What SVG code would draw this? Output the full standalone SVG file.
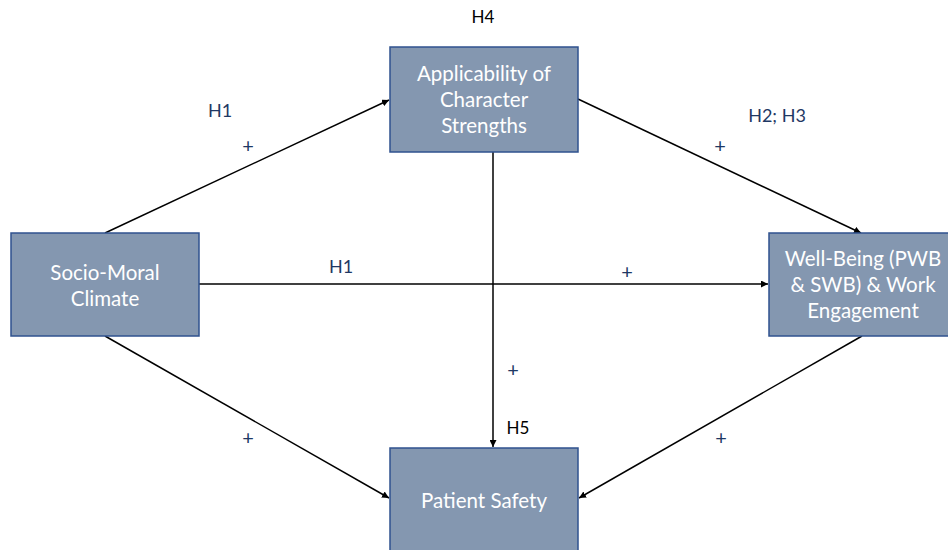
<svg xmlns="http://www.w3.org/2000/svg" width="948" height="550" viewBox="0 0 948 550">
<defs>
<marker id="arr" viewBox="0 0 10 10" refX="10" refY="5" markerWidth="7" markerHeight="7" markerUnits="userSpaceOnUse" orient="auto">
<path d="M0,0 L10,5 L0,10 z" fill="#000"/>
</marker>
<style>
.box{fill:#8497B0;stroke:#2F528F;stroke-width:1.5}
.bt{font-family:Lato,"Liberation Sans",sans-serif;font-size:20.5px;fill:#fff;text-anchor:middle}
.lbl{font-family:Lato,"Liberation Sans",sans-serif;font-size:18px;fill:#1F3864;text-anchor:middle}
.pl{font-family:Lato,"Liberation Sans",sans-serif;font-size:20px;fill:#1F3864;text-anchor:middle}
.lblk{font-family:Lato,"Liberation Sans",sans-serif;font-size:17px;fill:#000;text-anchor:middle}
.con{stroke:#000;stroke-width:1.5;fill:none;marker-end:url(#arr)}
</style>
</defs>
<rect width="948" height="550" fill="#fff"/>
<g id="connectors">
<line class="con" x1="105" y1="233" x2="389" y2="100"/>
<line class="con" x1="578" y1="99" x2="861" y2="233"/>
<line class="con" x1="199" y1="284" x2="768" y2="284"/>
<line class="con" x1="493" y1="152" x2="493" y2="447"/>
<line class="con" x1="105" y1="336" x2="389" y2="498"/>
<line class="con" x1="862" y1="336" x2="579" y2="498"/>
</g>
<g id="n-applicability">
<rect class="box" x="390" y="47" width="188" height="105"/>
<text class="bt" x="484" y="81">Applicability of</text>
<text class="bt" x="484" y="107">Character</text>
<text class="bt" x="484" y="133">Strengths</text>
</g>
<g id="n-socio">
<rect class="box" x="11" y="233" width="188" height="103"/>
<text class="bt" x="105" y="280">Socio-Moral</text>
<text class="bt" x="105" y="306">Climate</text>
</g>
<g id="n-wellbeing">
<rect class="box" x="769" y="233" width="188" height="103"/>
<text class="bt" x="863" y="266">Well-Being (PWB</text>
<text class="bt" x="863" y="292">&amp; SWB) &amp; Work</text>
<text class="bt" x="863" y="318">Engagement</text>
</g>
<g id="n-patient">
<rect class="box" x="390" y="448" width="188" height="105"/>
<text class="bt" x="484" y="508">Patient Safety</text>
</g>
<g id="labels">
<text class="lblk" x="483" y="23">H4</text>
<text class="lblk" x="518" y="434">H5</text>
<text class="lbl" x="220" y="117">H1</text>
<text class="pl" x="248" y="153">+</text>
<text class="lbl" x="777" y="122">H2; H3</text>
<text class="pl" x="720" y="153">+</text>
<text class="lbl" x="341" y="273">H1</text>
<text class="pl" x="627" y="279">+</text>
<text class="pl" x="513" y="377">+</text>
<text class="pl" x="248" y="445">+</text>
<text class="pl" x="721" y="445">+</text>
</g>
</svg>
